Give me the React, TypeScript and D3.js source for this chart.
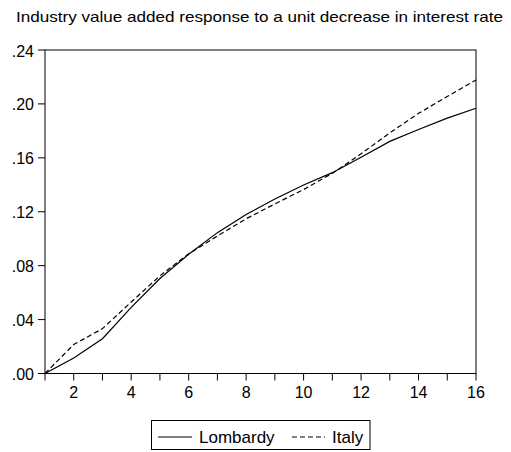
import React from "react";
import * as d3 from "d3";

const periods = [1, 2, 3, 4, 5, 6, 7, 8, 9, 10, 11, 12, 13, 14, 15, 16];
const lombardy = [0, 0.0115, 0.0258, 0.049, 0.0705, 0.0885, 0.1045, 0.118, 0.1295, 0.1398, 0.149, 0.1605, 0.1722, 0.181, 0.1895, 0.1968];
const italy = [0, 0.0215, 0.0333, 0.053, 0.0725, 0.0888, 0.102, 0.1148, 0.1258, 0.1365, 0.1485, 0.163, 0.1785, 0.193, 0.2055, 0.2178];
const yTicks = [0, 0.04, 0.08, 0.12, 0.16, 0.2, 0.24];
const yTickLabels = [".00", ".04", ".08", ".12", ".16", ".20", ".24"];
const xLabelTicks = [2, 4, 6, 8, 10, 12, 14, 16];
const title = "Industry value added response to a unit decrease in interest rate";
const seriesNames = ["Lombardy", "Italy"];

export default function App() {
  const left = 45, right = 476, top = 50, bottom = 373.5;
  const x = d3.scaleLinear().domain([1, 16]).range([left, right]);
  const y = d3.scaleLinear().domain([0, 0.24]).range([bottom, top]);
  const line = d3.line<number>().x((_, i) => x(periods[i])).y((d) => y(d));
  const font = "Arial, 'Liberation Sans', sans-serif";
  return (
    <svg width={511} height={452} style={{ position: "absolute", left: 0, top: 0, background: "#fff" }} fontFamily={font}>
      <rect x={0} y={0} width={511} height={452} fill="#fff" />
      <text x={16} y={22} fontSize={14.5} textLength={487} lengthAdjust="spacingAndGlyphs" fill="#000">{title}</text>
      <rect x={left} y={top} width={right - left} height={bottom - top} fill="none" stroke="#000" strokeWidth={1} />
      {yTicks.map((t, i) => (
        <g key={"y" + i}>
          <line x1={left - 7} x2={left} y1={y(t)} y2={y(t)} stroke="#000" />
          <text x={34} y={y(t) + 6.5} fontSize={16} textAnchor="end" fill="#000">{yTickLabels[i]}</text>
        </g>
      ))}
      {periods.map((p) => (
        <line key={"xt" + p} x1={x(p)} x2={x(p)} y1={bottom} y2={bottom + 7} stroke="#000" />
      ))}
      {xLabelTicks.map((p) => (
        <text key={"xl" + p} x={x(p)} y={398} fontSize={16} textAnchor="middle" fill="#000">{p}</text>
      ))}
      <path d={line(lombardy) || ""} fill="none" stroke="#000" strokeWidth={1.2} />
      <path d={line(italy) || ""} fill="none" stroke="#000" strokeWidth={1.2} strokeDasharray="5,3" />
      <rect x={151.5} y={420.5} width={218.5} height={29} fill="none" stroke="#000" strokeWidth={1} />
      <line x1={158} x2={192} y1={437} y2={437} stroke="#000" strokeWidth={1.2} />
      <text x={199} y={443} fontSize={17} fill="#000">{seriesNames[0]}</text>
      <line x1={292} x2={325} y1={437} y2={437} stroke="#000" strokeWidth={1.2} strokeDasharray="5,3" />
      <text x={332} y={443} fontSize={17} fill="#000">{seriesNames[1]}</text>
    </svg>
  );
}
